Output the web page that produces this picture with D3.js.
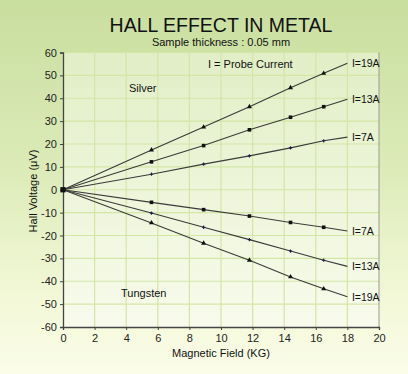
<!DOCTYPE html>
<html>
<head>
<meta charset="utf-8">
<script src="https://cdn.jsdelivr.net/npm/d3@7"></script>
<style>
html,body{margin:0;padding:0;background:#fff;}
svg{display:block;font-family:"Liberation Sans",Arial,sans-serif;}
</style>
</head>
<body>
<div id="chart"></div>
<script>
// ---- data ----
const fieldX = [0, 5.6, 8.9, 11.8, 14.4, 16.5, 18];
const silver19 = [0, 17.4, 27.4, 36.3, 44.6, 50.9, 55.3];
const silver13 = [0, 12.2, 19.3, 26.2, 31.7, 36.3, 39.6];
const silver7  = [0, 6.8, 11.2, 14.8, 18.3, 21.4, 23.0];
const tung7    = [0, -5.5, -8.7, -11.5, -14.3, -16.4, -18.0];
const tung13   = [0, -10.2, -16.4, -21.8, -26.8, -30.8, -33.5];
const tung19   = [0, -14.5, -23.4, -30.8, -38.1, -43.3, -46.8];
const seriesNames = ["I=19A", "I=13A", "I=7A", "I=7A", "I=13A", "I=19A"];
const seriesMarkers = ["triangle", "square", "cross", "square", "cross", "triangle"];
const xTicks = [0, 2, 4, 6, 8, 10, 12, 14, 16, 18, 20];
const yTicks = [-60, -50, -40, -30, -20, -10, 0, 10, 20, 30, 40, 50, 60];

const W = 408, H = 374;
const m = {left: 63, right: 29, top: 52.5, bottom: 47};
const x = d3.scaleLinear().domain([0, 20]).range([m.left, W - m.right]);
const y = d3.scaleLinear().domain([-60, 60]).range([H - m.bottom, m.top]);

const svg = d3.select("#chart").append("svg").attr("width", W).attr("height", H);
const defs = svg.append("defs");
const bg = defs.append("linearGradient").attr("id", "bg").attr("x1", 0).attr("y1", 0).attr("x2", 0).attr("y2", 1);
bg.append("stop").attr("offset", "0").attr("stop-color", "#c8de9e");
bg.append("stop").attr("offset", "0.45").attr("stop-color", "#dcebb8");
bg.append("stop").attr("offset", "0.8").attr("stop-color", "#f3f8d8");
bg.append("stop").attr("offset", "1").attr("stop-color", "#fbfde8");
const pg = defs.append("linearGradient").attr("id", "pg").attr("x1", 0).attr("y1", 0).attr("x2", 0).attr("y2", 1);
pg.append("stop").attr("offset", "0").attr("stop-color", "#e1eec6");
pg.append("stop").attr("offset", "0.5").attr("stop-color", "#eef5da");
pg.append("stop").attr("offset", "1").attr("stop-color", "#f8fbec");

svg.append("rect").attr("width", W).attr("height", H).attr("fill", "url(#bg)");
svg.append("rect").attr("x", x(0)).attr("y", y(60)).attr("width", x(20) - x(0)).attr("height", y(-60) - y(60)).attr("fill", "url(#pg)");

// grid
const grid = svg.append("g");
grid.selectAll(".gx").data(xTicks.filter(d => d > 0 && d < 20)).join("line")
  .attr("x1", d => x(d)).attr("x2", d => x(d)).attr("y1", y(60)).attr("y2", y(-60))
  .attr("stroke", "#d3e6a6").attr("stroke-width", 1.2);
grid.selectAll(".gy").data(yTicks.filter(d => d > -60)).join("line")
  .attr("x1", x(0)).attr("x2", x(20)).attr("y1", d => y(d)).attr("y2", d => y(d))
  .attr("stroke", "#d3e6a6").attr("stroke-width", 1.2);
svg.append("line").attr("x1", x(20)).attr("x2", x(20)).attr("y1", y(60)).attr("y2", y(-60))
  .attr("stroke", "#9a9a8a").attr("stroke-width", 1);

// axes
const fmt = d => String(d);
const yAxis = svg.append("g").attr("transform", `translate(${x(0)},0)`)
  .call(d3.axisLeft(y).tickValues(yTicks).tickSize(3).tickPadding(3).tickFormat(fmt));
const xAxis = svg.append("g").attr("transform", `translate(0,${y(-60)})`)
  .call(d3.axisBottom(x).tickValues(xTicks).tickSize(3).tickPadding(4).tickFormat(fmt));
[xAxis, yAxis].forEach(a => {
  a.select(".domain").attr("stroke", "#444").attr("stroke-width", 1.3);
  a.selectAll(".tick line").attr("stroke", "#444");
  a.selectAll("text").attr("font-size", 11).attr("fill", "#222").attr("font-family", '"Liberation Sans",Arial,sans-serif');
});

// series
const allSeries = [silver19, silver13, silver7, tung7, tung13, tung19];
const line = d3.line().x((d, i) => x(fieldX[i])).y(d => y(d));
const symbolType = {triangle: d3.symbolTriangle, square: d3.symbolSquare, cross: d3.symbolCross};
const symbolSize = {triangle: 11, square: 13, cross: 6};
const symbolColor = {triangle: "#111", square: "#111", cross: "#1a1f4a"};
allSeries.forEach((s, k) => {
  svg.append("path").datum(s).attr("d", line).attr("fill", "none").attr("stroke", "#3a3a3a").attr("stroke-width", 1.1);
  const mk = seriesMarkers[k];
  svg.selectAll(null).data(s.slice(1, 6)).join("path")
    .attr("transform", (d, i) => `translate(${x(fieldX[i + 1])},${y(d)})`)
    .attr("d", d3.symbol().type(symbolType[mk]).size(symbolSize[mk]))
    .attr("fill", symbolColor[mk]);
  svg.append("text").attr("x", x(fieldX[6]) + 4.5).attr("y", y(s[6]) + 4)
    .attr("font-size", 10.5).attr("fill", "#111").text(seriesNames[k]);
});
// origin marker
svg.append("path").attr("transform", `translate(${x(0)},${y(0)})`)
  .attr("d", d3.symbol().type(d3.symbolSquare).size(28)).attr("fill", "#111");

// texts
svg.append("text").attr("x", 221).attr("y", 32).attr("text-anchor", "middle")
  .attr("font-size", 19.5).attr("fill", "#111").text("HALL EFFECT IN METAL");
svg.append("text").attr("x", 221).attr("y", 46).attr("text-anchor", "middle")
  .attr("font-size", 11).attr("fill", "#111").text("Sample thickness : 0.05 mm");
svg.append("text").attr("x", 208).attr("y", 68).attr("font-size", 11).attr("fill", "#111").text("I = Probe Current");
svg.append("text").attr("x", 129).attr("y", 92).attr("font-size", 11).attr("fill", "#111").text("Silver");
svg.append("text").attr("x", 121).attr("y", 297).attr("font-size", 11).attr("fill", "#111").text("Tungsten");
svg.append("text").attr("x", 221).attr("y", 357).attr("text-anchor", "middle")
  .attr("font-size", 11).attr("fill", "#111").text("Magnetic Field (KG)");
svg.append("text").attr("transform", "translate(37,191) rotate(-90)").attr("text-anchor", "middle")
  .attr("font-size", 11).attr("fill", "#111").text("Hall Voltage (μV)");
</script>
</body>
</html>
